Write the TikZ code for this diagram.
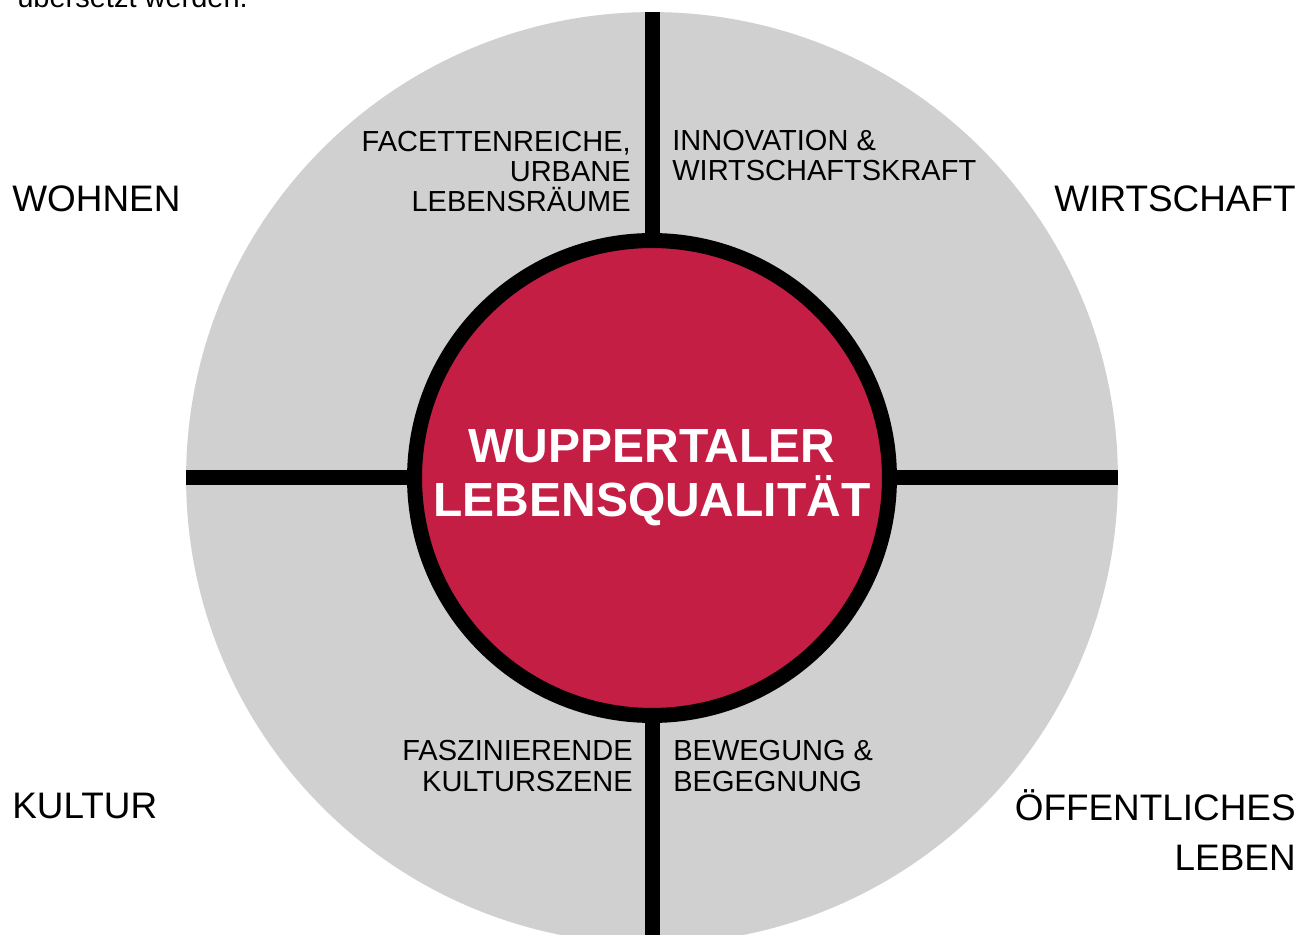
\documentclass[tikz,border=0pt]{standalone}
\usepackage{fontspec}
\setmainfont{Liberation Sans}
\usetikzlibrary{positioning}
\definecolor{discgray}{RGB}{208,208,208}
\definecolor{wupperred}{RGB}{196,30,69}

\begin{document}
\begin{tikzpicture}[x=0.02cm, y=-0.02cm,
    field/.style={font=\fontsize{16.5}{17.1}\selectfont, inner sep=0pt},
    area/.style={font=\fontsize{21}{28.45}\selectfont, inner sep=0pt},
    cross/.style={line width=0.3cm}]
			\useasboundingbox (0,0) rectangle (1312,935);
			\node[circle, fill=discgray, minimum size=18.64cm, inner sep=0pt, outer sep=0pt] (disc) at (652,478) {};
			\draw[cross] (disc.north) -- (disc.south);
			\draw[cross] (disc.west) -- (disc.east);
			\node[circle, fill=wupperred, draw=black, line width=0.3cm, minimum size=9.5cm, inner sep=0pt] (core) at (disc.center) {};
			\node[anchor=base, align=center, text=white, inner sep=0pt, font=\fontsize{27.3}{31.3}\selectfont\bfseries] (motto) at (652,517) {WUPPERTALER\\LEBENSQUALITÄT};
			\node[field, anchor=base east, align=right] (urban) at (631,212) {FACETTENREICHE,\\URBANE\\LEBENSRÄUME};
			\node[field, anchor=base west, align=left] (innov) at (672,181) {INNOVATION \&\\WIRTSCHAFTSKRAFT};
			\node[field, anchor=base east, align=right] (kultszene) at (633,791) {FASZINIERENDE\\KULTURSZENE};
			\node[field, anchor=base west, align=left] (beweg) at (673,791) {BEWEGUNG \&\\BEGEGNUNG};
			\node[area, anchor=base west] (wohnen) at (12,212) {WOHNEN};
			\node[area, anchor=base east] (wirtschaft) at (1296,212) {WIRTSCHAFT};
			\node[area, anchor=base west] (kultur) at (12,818) {KULTUR};
			\node[area, anchor=base east, align=right] (leben) at (1296,870) {ÖFFENTLICHES\\LEBEN};
			\node[field, anchor=base west] (note) at (17,8) {übersetzt werden.};
		\end{tikzpicture}
\end{document}
